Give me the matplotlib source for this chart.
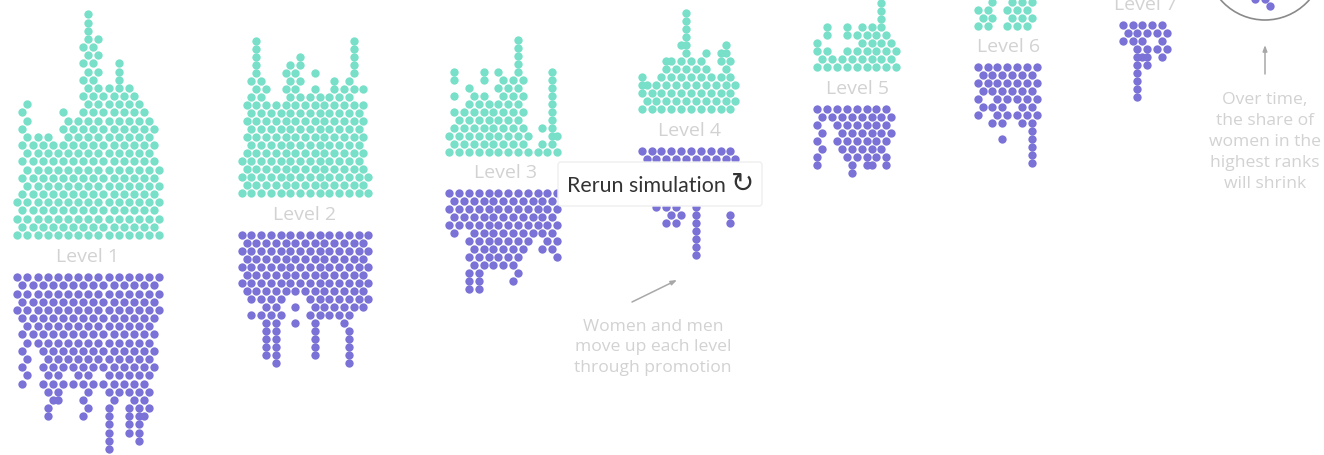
import matplotlib
matplotlib.use("Agg")
import matplotlib.pyplot as plt
from matplotlib.patches import FancyBboxPatch, Circle

# dots per half-column, left to right, packed in alternating rows
women_l1 = [3, 8, 9, 6, 7, 6, 7, 6, 6, 8, 8, 7, 8, 12, 13, 12, 13, 9, 10, 9, 10, 9, 10, 9, 9, 8, 8, 7, 5]
men_l1 = [3, 7, 7, 4, 5, 7, 9, 8, 8, 7, 6, 7, 7, 9, 9, 7, 6, 7, 9, 8, 8, 7, 9, 8, 9, 9, 9, 6, 3]
women_l2 = [3, 6, 8, 8, 8, 7, 6, 6, 6, 8, 9, 8, 9, 6, 7, 8, 7, 6, 7, 7, 7, 7, 8, 8, 6, 7, 2]
men_l2 = [4, 4, 6, 4, 6, 6, 6, 6, 6, 4, 4, 6, 4, 4, 6, 6, 6, 5, 6, 5, 6, 6, 7, 5, 5, 5, 5]
women_l3 = [2, 5, 3, 3, 5, 4, 4, 5, 4, 3, 6, 5, 5, 5, 6, 5, 2, 0, 1, 2, 1, 1, 2]
men_l3 = [3, 3, 3, 2, 6, 5, 6, 5, 5, 5, 5, 5, 5, 6, 6, 4, 4, 3, 3, 4, 4, 4, 5]
women_l4 = [2, 2, 2, 2, 3, 3, 4, 3, 5, 4, 4, 3, 4, 4, 3, 2, 4, 4, 4, 2]
men_l4 = [2, 2, 3, 4, 3, 5, 5, 5, 5, 3, 4, 4, 3, 3, 3, 3, 3, 3, 5, 1]
women_l5 = [2, 1, 3, 1, 1, 1, 3, 1, 3, 3, 3, 3, 3, 3, 3, 2, 2]
men_l5 = [4, 3, 1, 1, 3, 3, 4, 4, 4, 3, 4, 4, 4, 3, 4, 2, 0]
women_l6 = [2, 1, 2, 2, 0, 0, 3, 2, 3, 2, 3, 2]
men_l6 = [4, 3, 2, 4, 4, 5, 4, 2, 4, 4, 4, 4, 4]
men_l7 = [2, 1, 2, 2, 3, 2, 1, 2, 3, 2]

# extra dots stacked straight on a half-column: {half-column: dots}
women_spikes = [{14: 3, 20: 3}, {3: 4, 12: 1, 19: 1, 23: 4}, {1: 1, 7: 1, 14: 4, 21: 9},
                {0: 2, 5: 1, 9: 5, 16: 1, 17: 1}, {0: 1, 2: 1, 6: 1, 13: 3}, {}]
men_spikes = [{6: 1, 8: 1, 18: 5, 22: 3, 24: 4}, {5: 4, 7: 5, 15: 4, 22: 4}, {4: 2, 6: 2}, {11: 6, 18: 1},
              {0: 1, 7: 1, 10: 1, 14: 1}, {11: 5}, {3: 6, 5: 2}]

level_names = ["Level 1", "Level 2", "Level 3", "Level 4", "Level 5", "Level 6", "Level 7"]
note_left = "Women and men\nmove up each level\nthrough promotion"
note_right = "Over time,\nthe share of\nwomen in the\nhighest ranks\nwill shrink"

women = [women_l1, women_l2, women_l3, women_l4, women_l5, women_l6]
men = [men_l1, men_l2, men_l3, men_l4, men_l5, men_l6, men_l7]

# layout, in reference pixels
block_left = [17.3, 241.7, 449.3, 641.7, 817.3, 977.7, 1122.7]
half_pitch = [5.07, 4.87, 4.9, 4.93, 4.93, 4.9, 4.9]
row_pitch = [8.17, 8.0, 8.0, 8.0, 8.0, 8.0, 8.0]
women_base = [236, 194, 152.7, 110.3, 68.3, 26.7]
men_base = [278.3, 236, 194, 152.3, 110, 68.3, 26]
label_x = [88, 305, 505, 689, 857, 1009, 1145]
label_y = [257, 215, 173, 131, 89, 47, 5]

TEAL = "#78e0c9"
PURPLE = "#7b72d8"
GREY = "#d2d2d2"
LINE = "#a8a8a8"
FONT = ["Open Sans", "DejaVu Sans"]
DOT = 36


def column_dots(counts, spikes, left, half, row, base, sign):
    xs, ys = [], []
    for i, n in enumerate(counts):
        r = i % 2
        for k in range(n):
            xs.append(left + i * half)
            ys.append(base + sign * (r + 2 * k) * row)
        for k in range(spikes.get(i, 0)):
            xs.append(left + i * half)
            ys.append(base + sign * (r + 2 * (n - 1) + k + 1) * row)
    return xs, ys


fig = plt.figure(figsize=(13.24, 4.56), dpi=100)
ax = fig.add_axes([0, 0, 1, 1])
ax.set_xlim(0, 1324)
ax.set_ylim(456, 0)
ax.axis("off")

for i in range(7):
    if i < len(women):
        x, y = column_dots(women[i], women_spikes[i], block_left[i], half_pitch[i], row_pitch[i], women_base[i], -1)
        ax.scatter(x, y, s=DOT, color=TEAL, linewidths=0, zorder=2)
    x, y = column_dots(men[i], men_spikes[i], block_left[i], half_pitch[i], row_pitch[i], men_base[i], 1)
    ax.scatter(x, y, s=DOT, color=PURPLE, linewidths=0, zorder=2)
    ax.text(label_x[i], label_y[i], level_names[i], color=GREY, fontsize=14, family=FONT,
            ha="center", va="center")

# top of the pyramid, mostly off the picture
ax.add_patch(Circle((1265, -37.7), 58.7, facecolor="none", edgecolor="#8a8a8a", linewidth=1.2, zorder=1))
x, y = column_dots([1, 0, 1, 1], {}, 1255, 5, 7, 0, 1)
ax.scatter(x, y, s=DOT, color=PURPLE, linewidths=0, zorder=2)

# notes
ax.text(653, 347.5, note_left, color=GREY, fontsize=12.6, family=FONT, ha="center", va="center",
        linespacing=1.4)
ax.text(1265, 142, note_right, color=GREY, fontsize=12.6, family=FONT, ha="center", va="center",
        linespacing=1.4)
ax.annotate("", xy=(677, 281), xytext=(632, 303),
            arrowprops=dict(arrowstyle="-|>,head_width=0.13,head_length=0.35", color=LINE, lw=1.1, shrinkA=0, shrinkB=0))
ax.annotate("", xy=(1265, 46), xytext=(1265, 75),
            arrowprops=dict(arrowstyle="-|>,head_width=0.13,head_length=0.35", color=LINE, lw=1.1, shrinkA=0, shrinkB=0))

# button
ax.add_patch(FancyBboxPatch((558, 163), 204, 44, boxstyle="round,pad=0,rounding_size=3",
                            mutation_aspect=1, facecolor="white", edgecolor="#efefef", linewidth=1, zorder=5))
ax.text(567, 186, "Rerun simulation", color="#333333", fontsize=15.4, family=["Lato", "DejaVu Sans"], ha="left", va="center", zorder=6)
ax.text(743, 184, "\u21bb", color="#333333", fontsize=20, family=["DejaVu Sans"], ha="center", va="center", zorder=6)

fig.savefig("out.png", dpi=100)
